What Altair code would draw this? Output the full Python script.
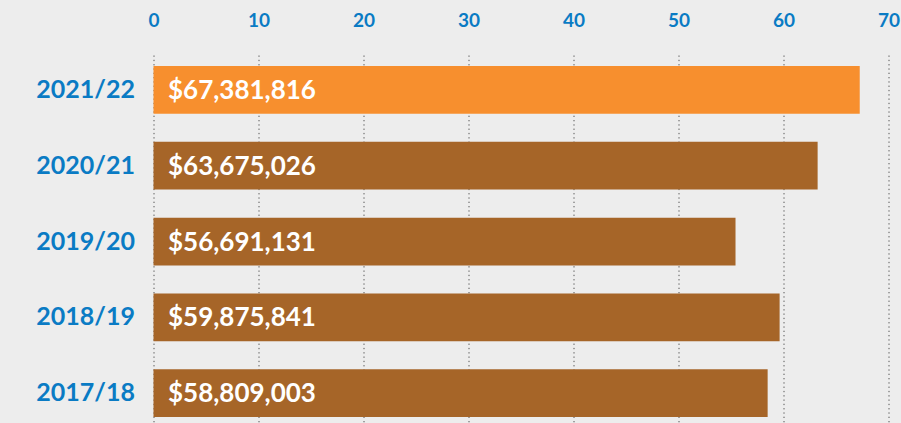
import altair as alt
import pandas as pd

years = ["2021/22", "2020/21", "2019/20", "2018/19", "2017/18"]
bar_millions = [67.26, 63.25, 55.43, 59.63, 58.49]
amount_labels = ["$67,381,816", "$63,675,026", "$56,691,131", "$59,875,841", "$58,809,003"]
highlight = ["yes", "no", "no", "no", "no"]
x_ticks = [0, 10, 20, 30, 40, 50, 60, 70]

df = pd.DataFrame({"year": years, "millions": bar_millions,
                   "label": amount_labels, "hl": highlight})

BLUE = "#0a7bc4"
FONT = "Lato"

y_enc = alt.Y("year:N", sort=years, title=None,
              scale=alt.Scale(paddingInner=0.37, paddingOuter=0.112, align=0.65),
              axis=alt.Axis(labelColor=BLUE, labelFont=FONT, labelFontSize=25,
                            labelFontWeight="bold", labelPadding=19, ticks=False,
                            domain=False, grid=False))

x_scale = alt.Scale(domain=[0, 70], nice=False)

bars = alt.Chart(df).mark_bar().encode(
    x=alt.X("millions:Q", scale=x_scale, title=None,
            axis=alt.Axis(orient="top", values=x_ticks, labelColor=BLUE, labelFont=FONT,
                          labelFontSize=19, labelFontWeight="bold", labelPadding=25,
                          ticks=False, domain=False, grid=True, gridColor="#555555",
                          gridDash=[1.3, 3], gridWidth=1, gridOpacity=1,
                          labelFlush=False)),
    y=y_enc,
    color=alt.Color("hl:N", scale=alt.Scale(domain=["yes", "no"], range=["#f78f2e", "#a66528"]),
                    legend=None),
)

labels = alt.Chart(df).mark_text(align="left", baseline="middle", dx=14.5, dy=1, color="white",
                                 font=FONT, fontSize=26, fontWeight="bold").encode(
    x=alt.datum(0),
    y=alt.Y("year:N", sort=years),
    text=alt.Text("label:N"),
)

chart = alt.layer(bars, labels).properties(
    width=735, height=368,
    autosize=alt.AutoSizeParams(type="none"),
    padding={"left": 153.5, "top": 55, "right": 12.5, "bottom": 0},
    background="#ededed",
).configure_view(stroke=None)

chart.save("out.html", embed_options={"renderer": "svg", "actions": False})
